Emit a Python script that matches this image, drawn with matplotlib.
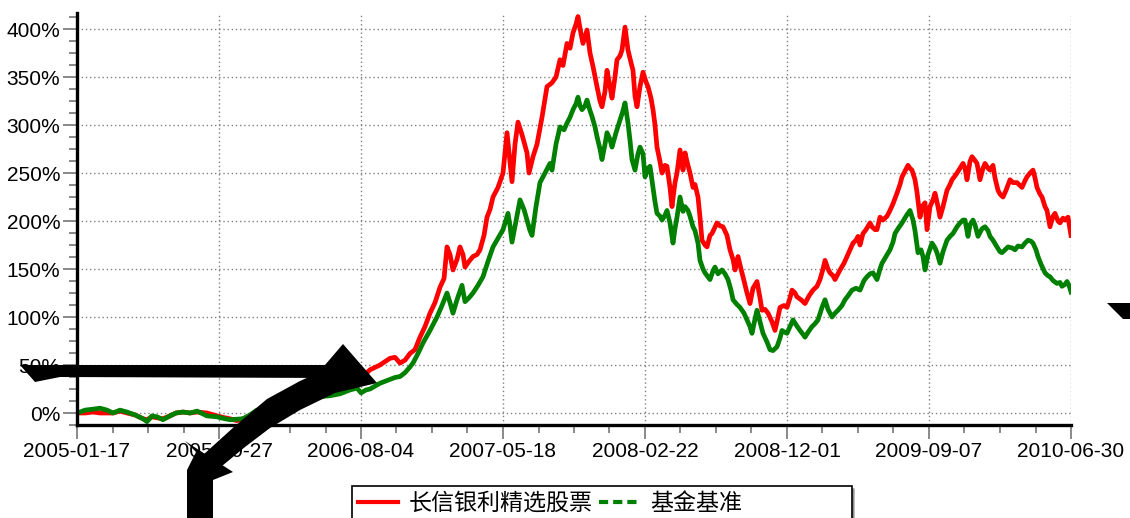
from matplotlib import pyplot as plt
from matplotlib.lines import Line2D
from matplotlib.patches import Polygon
from matplotlib.ticker import FixedLocator, MultipleLocator, FuncFormatter
import numpy as np

plt.rcParams['font.family'] = ['Liberation Sans', 'Noto Sans CJK SC', 'DejaVu Sans']

# trading-day index (0 = 2005-01-17, 994 = 2010-06-30) and cumulative return in %
fund_day = [0, 8, 16, 23, 30, 36, 43, 50, 58, 66, 70, 75, 80, 86, 93, 99, 106, 113, 120, 130,
            140, 148, 153, 160, 166, 173, 180, 186, 193, 203, 213, 223, 233, 243, 253, 263, 273, 280, 284, 289,
            293, 303, 313, 318, 323, 328, 333, 338, 343, 348, 353, 358, 363, 367, 370, 373, 376, 380, 383, 386,
            388, 392, 396, 400, 403, 407, 410, 413, 416, 421, 426, 430, 435, 438, 441, 445, 450, 452, 456, 460,
            465, 470, 475, 479, 483, 486, 490, 493, 496, 499, 501, 504, 506, 510, 513, 516, 520, 523, 525, 528,
            530, 533, 535, 538, 540, 543, 545, 548, 551, 554, 556, 558, 560, 563, 566, 569, 571, 574, 576, 578,
            580, 583, 585, 588, 590, 593, 595, 598, 600, 603, 606, 608, 610, 613, 616, 618, 621, 623, 625, 628,
            630, 633, 635, 640, 643, 646, 650, 653, 656, 658, 661, 664, 666, 670, 673, 676, 680, 683, 685, 688,
            691, 695, 698, 701, 703, 707, 710, 713, 715, 718, 720, 724, 728, 732, 736, 740, 743, 746, 748, 751,
            753, 756, 758, 761, 763, 767, 770, 773, 776, 779, 781, 783, 786, 789, 793, 795, 798, 800, 803, 806,
            810, 813, 816, 820, 823, 825, 828, 831, 833, 835, 838, 840, 843, 845, 848, 850, 853, 856, 858, 861,
            863, 866, 870, 873, 875, 878, 880, 883, 886, 888, 890, 893, 895, 898, 900, 903, 906, 908, 911, 913,
            916, 918, 921, 923, 926, 929, 933, 936, 940, 943, 945, 948, 950, 953, 956, 958, 960, 963, 965, 968,
            970, 973, 976, 978, 981, 983, 986, 988, 991, 994]
fund_ret = [0, 0, 1, 0, 0, 0, 2, 0, -2, -6, -7, -4, -5, -6, -3, 0, 1, 0, 1, 0,
            -3, -5, -6, -8, -6, -3, 1, 3, 6, 10, 14, 18, 22, 26, 30, 35, 39, 44, 40, 41,
            45, 50, 57, 58, 52, 55, 62, 66, 79, 90, 104, 115, 131, 140, 173, 165, 149, 160, 173, 165,
            152, 158, 163, 165, 170, 185, 204, 212, 225, 235, 250, 292, 241, 280, 303, 290, 271, 250, 267, 280,
            308, 340, 344, 350, 368, 362, 385, 380, 396, 405, 413, 395, 385, 399, 375, 361, 340, 325, 319, 335,
            357, 340, 328, 350, 368, 372, 378, 402, 378, 365, 357, 330, 319, 340, 355, 345, 340, 328, 316, 300,
            277, 262, 250, 258, 257, 235, 215, 240, 250, 274, 253, 271, 262, 250, 235, 238, 225, 204, 180, 175,
            173, 185, 187, 198, 195, 194, 185, 170, 160, 149, 163, 150, 142, 125, 114, 130, 137, 120, 107, 108,
            104, 95, 86, 100, 110, 112, 110, 120, 128, 125, 121, 118, 114, 122, 128, 132, 139, 150, 159, 150,
            146, 143, 139, 145, 149, 156, 163, 170, 177, 180, 184, 175, 187, 191, 198, 194, 191, 191, 204, 201,
            205, 211, 218, 229, 238, 246, 252, 258, 255, 253, 243, 230, 204, 215, 219, 191, 215, 222, 229, 215,
            204, 215, 232, 238, 243, 247, 250, 255, 260, 255, 243, 262, 267, 263, 260, 243, 255, 260, 255, 253,
            258, 245, 232, 228, 225, 232, 243, 240, 240, 237, 235, 242, 246, 250, 253, 245, 235, 228, 225, 215,
            211, 194, 205, 208, 200, 198, 203, 201, 204, 185]

bench_day = [0, 3, 8, 16, 23, 30, 36, 43, 50, 58, 66, 70, 75, 80, 86, 93, 99, 106, 113, 120,
             130, 140, 148, 153, 166, 173, 180, 186, 193, 203, 213, 223, 233, 243, 253, 263, 273, 280, 284, 289,
             293, 298, 303, 308, 313, 318, 323, 328, 333, 336, 341, 346, 353, 360, 365, 370, 373, 376, 380, 385,
             388, 392, 396, 401, 406, 411, 416, 421, 426, 431, 433, 435, 439, 443, 447, 450, 453, 455, 459, 463,
             468, 473, 475, 479, 483, 487, 490, 493, 496, 499, 501, 503, 505, 508, 510, 513, 515, 518, 520, 523,
             525, 528, 530, 533, 535, 539, 543, 546, 548, 551, 553, 555, 558, 561, 563, 566, 568, 571, 573, 576,
             578, 580, 583, 585, 588, 590, 593, 596, 598, 600, 603, 606, 608, 611, 613, 616, 618, 621, 623, 626,
             628, 633, 636, 638, 641, 645, 648, 651, 654, 656, 660, 663, 667, 670, 673, 675, 678, 680, 683, 686,
             690, 693, 696, 700, 703, 705, 708, 710, 713, 716, 719, 723, 726, 728, 731, 735, 738, 741, 745, 748,
             751, 755, 758, 761, 765, 768, 771, 775, 779, 783, 787, 790, 793, 796, 800, 803, 805, 809, 813, 816,
             818, 821, 825, 829, 833, 836, 838, 841, 844, 846, 848, 851, 855, 858, 860, 863, 866, 870, 873, 876,
             880, 883, 886, 888, 891, 893, 896, 898, 901, 905, 908, 911, 913, 916, 920, 923, 925, 928, 931, 935,
             938, 941, 945, 948, 951, 954, 956, 959, 961, 964, 968, 971, 973, 976, 980, 983, 985, 988, 990, 992,
             994]
bench_ret = [0, 1, 3, 4, 5, 3, 0, 3, 1, -2, -6, -9, -3, -4, -7, -3, 0, 1, 0, 2,
             -3, -4, -6, -7, -6, -2, 3, 4, 7, 11, 13, 14, 16, 17, 18, 20, 24, 26, 21, 24,
             25, 28, 31, 33, 35, 37, 38, 42, 48, 52, 62, 73, 86, 100, 112, 125, 115, 104, 118, 133,
             116, 120, 125, 133, 142, 158, 173, 182, 191, 208, 195, 178, 200, 222, 212, 201, 190, 185, 215, 240,
             250, 260, 253, 280, 298, 295, 302, 308, 316, 322, 329, 320, 316, 320, 326, 315, 309, 298, 288, 275,
             264, 280, 292, 285, 277, 292, 305, 315, 323, 302, 284, 264, 253, 270, 277, 270, 246, 255, 257, 235,
             220, 208, 205, 201, 206, 211, 198, 177, 192, 204, 225, 210, 215, 211, 205, 194, 190, 177, 159, 150,
             146, 139, 148, 152, 145, 149, 145, 139, 128, 118, 113, 110, 104, 97, 90, 83, 98, 107, 95, 83,
             74, 66, 65, 69, 78, 86, 84, 83, 90, 97, 92, 86, 82, 79, 84, 90, 93, 97, 110, 118,
             108, 100, 104, 107, 112, 118, 122, 128, 130, 128, 138, 142, 145, 146, 139, 150, 156, 163, 170, 178,
             187, 192, 198, 205, 211, 201, 190, 167, 170, 163, 149, 165, 177, 172, 167, 156, 168, 180, 184, 187,
             194, 198, 201, 201, 184, 196, 201, 196, 184, 192, 194, 190, 184, 180, 173, 168, 167, 170, 173, 172,
             170, 174, 173, 177, 180, 179, 177, 170, 163, 155, 146, 143, 142, 138, 135, 136, 132, 134, 137, 133,
             126]

date_labels = ["2005-01-17", "2005-10-27", "2006-08-04", "2007-05-18",
               "2008-02-22", "2008-12-01", "2009-09-07", "2010-06-30"]
legend_labels = ["长信银利精选股票", "基金基准"]

W, H = 1130, 518
fig = plt.figure(figsize=(W / 100, H / 100), dpi=100)
ax = fig.add_axes([77 / W, 1 - 425 / H, 994 / W, 412 / H])

ax.plot(fund_day, fund_ret, color="#ff0000", lw=3.4, solid_joinstyle="round", zorder=3)
ax.plot(bench_day, bench_ret, color="#008000", lw=3.4, solid_joinstyle="round", zorder=3)

ax.set_xlim(0, 994)
ax.set_ylim(-12.5, 416.7)

ax.xaxis.set_major_locator(FixedLocator(np.linspace(0, 994, 8)))
ax.xaxis.set_minor_locator(FixedLocator(np.linspace(0, 994, 29)))
ax.set_xticklabels(date_labels)
ax.yaxis.set_major_locator(MultipleLocator(50))
ax.yaxis.set_minor_locator(MultipleLocator(12.5))
ax.yaxis.set_major_formatter(FuncFormatter(lambda v, p: "%d%%" % v))

for s in ["top", "right"]:
    ax.spines[s].set_visible(False)
for s in ["left", "bottom"]:
    ax.spines[s].set_linewidth(2.4)
    ax.spines[s].set_zorder(4)

ax.tick_params(which="major", length=10, width=1.3, color="#808080", labelsize=15, pad=2)
ax.tick_params(which="minor", length=6, width=1.3, color="#808080")
ax.grid(True, which="major", color="#808080", linestyle=(0, (1, 2)), linewidth=1)

# third, empty entry only pads the box out to the width of the original
handles = [Line2D([], [], color="#ff0000", lw=3),
           Line2D([], [], color="#008000", lw=3, linestyle=(0, (2.2, 1.2))),
           Line2D([], [], color="none")]
leg = fig.legend(handles, legend_labels + ["\u3000\u3000"], loc="upper left",
                 bbox_to_anchor=(352 / W, 1 - 486 / H),
                 ncol=3, fontsize=16.6, frameon=True, fancybox=False, shadow={"color": "0.4"},
                 handlelength=1.75, handletextpad=0.45, columnspacing=0.3, borderaxespad=0,
                 borderpad=0.25)
leg.get_frame().set_edgecolor("black")
leg.get_frame().set_linewidth(1.2)
for t in leg.get_texts():
    t.set_family(["Noto Sans CJK SC", "DejaVu Sans"])


# stray black arrow shapes that sit on top of the original image
def px(points):
    return [(x / W, 1 - y / H) for x, y in points]


shapes = [
    [(20, 365), (325, 365), (343, 344), (377, 383), (333, 378), (60, 377), (35, 382)],
    [(333, 366), (300, 381), (267, 399), (235, 426), (203, 455), (222, 466), (245, 447),
     (270, 428), (300, 410), (335, 393), (377, 383)],
    [(185, 441), (233, 472), (213, 480), (213, 518), (187, 518), (187, 470), (196, 452)],
    [(1107, 303), (1130, 303), (1130, 319), (1123, 319)],
]
for pts in shapes:
    fig.add_artist(Polygon(px(pts), closed=True, facecolor="black", edgecolor="none",
                           transform=fig.transFigure, zorder=10))

fig.savefig("out.png", dpi=100)
